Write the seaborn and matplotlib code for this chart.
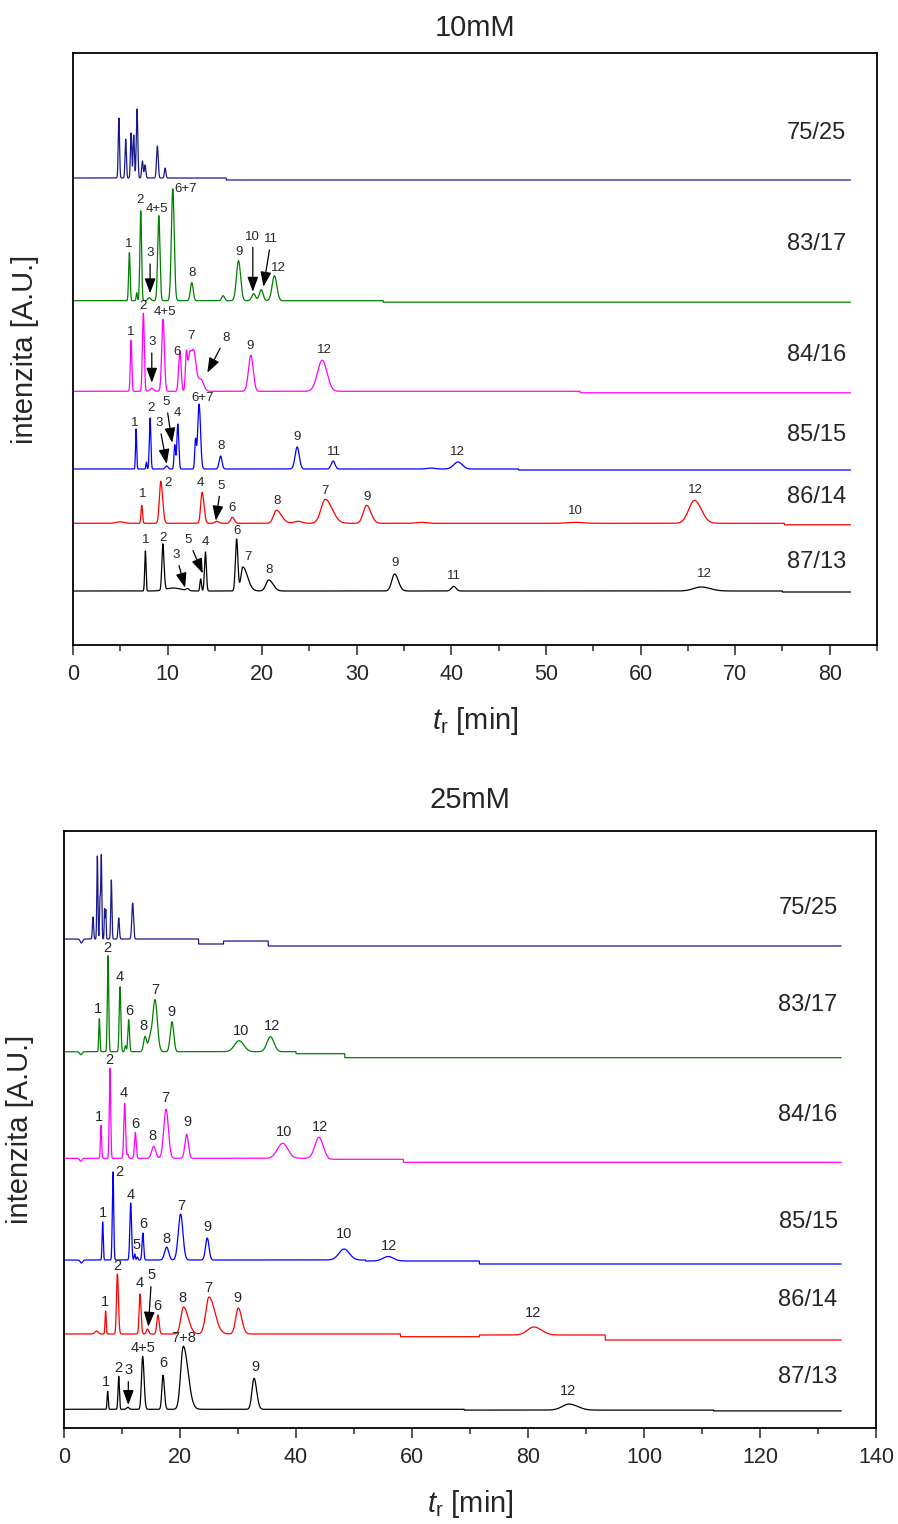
import numpy as np
import pandas as pd
import matplotlib
matplotlib.use("Agg")
import matplotlib.pyplot as plt
import seaborn as sns

sns.set_style("ticks")
plt.rcParams['font.family'] = ['Liberation Sans', 'DejaVu Sans']
plt.rcParams['mathtext.fontset'] = 'custom'
plt.rcParams['mathtext.rm'] = 'Liberation Sans'
plt.rcParams['mathtext.it'] = 'Liberation Sans:italic'

# ---------------- DATA ----------------
samples = ["75/25", "83/17", "84/16", "85/15", "86/14", "87/13"]
colors = ["#1a1a8c", "#008000", "#ff00ff", "#0000ff", "#ff0000", "#000000"]

# ---- 10 mM: peak retention times [min], heights [A.U.], widths (sigma, min), tailing
t10_7525 = [4.85, 5.57, 6.14, 6.42, 6.77, 7.34, 7.62, 8.92, 9.74]
h10_7525 = [60, 39, 45, 43, 69, 17, 13, 32, 10]
w10_7525 = [0.07, 0.07, 0.07, 0.07, 0.08, 0.08, 0.08, 0.09, 0.08]
b10_7525 = [(16.2, -2)]

t10_8317 = [5.96, 6.74, 7.16, 8.07, 9.07, 10.55, 12.56, 15.87, 17.5, 19.1, 19.9, 21.3]
h10_8317 = [48, 8, 90, 3, 85, 112, 18, 5, 40, 7, 11, 25]
w10_8317 = [0.08, 0.06, 0.09, 0.15, 0.12, 0.15, 0.15, 0.15, 0.22, 0.2, 0.2, 0.25]
b10_8317 = [(32.8, -1.5)]

t10_8416 = [6.14, 7.44, 8.33, 9.52, 11.3, 11.98, 12.3, 12.75, 13.5, 18.8, 26.35]
h10_8416 = [51, 78, 3, 72, 40, 34, 30, 40, 12, 36, 31]
w10_8416 = [0.08, 0.1, 0.2, 0.14, 0.13, 0.1, 0.18, 0.25, 0.3, 0.25, 0.5]
b10_8416 = [(53.6, -1.5)]

t10_8515 = [6.67, 7.76, 8.15, 9.9, 10.76, 11.08, 12.95, 13.33, 15.6, 23.7, 27.5, 37.8, 40.7]
h10_8515 = [40, 7, 51, 3, 24, 45, 28, 65, 13, 22, 8, 1, 7]
w10_8515 = [0.06, 0.05, 0.08, 0.15, 0.08, 0.1, 0.08, 0.15, 0.15, 0.22, 0.2, 0.4, 0.45]
b10_8515 = [(47.1, -1)]

t10_8614 = [5.0, 7.27, 9.28, 13.65, 15.2, 16.86, 21.5, 23.8, 26.67, 31.04, 36.8, 53.1, 65.7]
h10_8614 = [1.5, 18, 42, 31, 2, 6, 13, 2, 24, 18, 1, 1, 23]
w10_8614 = [0.4, 0.08, 0.15, 0.15, 0.2, 0.2, 0.3, 0.4, 0.45, 0.35, 0.5, 0.8, 0.6]
k10_8614 = [1, 1, 1.3, 1.3, 1, 1, 1.8, 1, 1.6, 1.3, 1, 1, 1.2]
b10_8614 = [(75.2, -1.5)]

t10_8713 = [7.65, 9.49, 10.6, 12.1, 13.5, 14.0, 17.3, 17.95, 20.7, 34.0, 40.25, 66.4]
h10_8713 = [40, 46, 3, 2, 12, 39, 52, 24, 11, 17, 4.5, 4]
w10_8713 = [0.07, 0.1, 0.8, 0.15, 0.08, 0.1, 0.13, 0.2, 0.3, 0.3, 0.25, 0.8]
k10_8713 = [1, 1.3, 1, 1, 1, 1, 1, 2.5, 1.5, 1.3, 1, 1.2]
b10_8713 = [(75.0, -1)]

# ---- 25 mM
t25_7525 = [3.0, 5.0, 5.75, 6.2, 6.43, 7.0, 7.2, 8.16, 9.43, 11.84]
h25_7525 = [-4, 22, 83, 39, 84, 30, 29, 59, 21, 36]
w25_7525 = [0.2, 0.1, 0.09, 0.08, 0.09, 0.07, 0.07, 0.1, 0.12, 0.15]
b25_7525 = [(23.2, -5), (27.5, 3), (35.2, -5)]

t25_8317 = [2.9, 6.09, 7.59, 9.66, 10.6, 11.15, 13.97, 14.8, 15.69, 18.62, 30.2, 35.6]
h25_8317 = [-3, 33, 96, 65, 6, 32, 15, 12, 52, 30, 11, 15]
w25_8317 = [0.2, 0.1, 0.12, 0.14, 0.12, 0.14, 0.25, 0.3, 0.4, 0.3, 0.8, 0.6]
b25_8317 = [(40.0, -2), (48.4, -4)]

t25_8416 = [2.9, 6.38, 7.93, 10.46, 11.0, 12.3, 15.46, 17.6, 21.15, 37.7, 43.96]
h25_8416 = [-3, 33, 90, 55, 4, 26, 12, 49, 24, 15, 21]
w25_8416 = [0.2, 0.1, 0.12, 0.15, 0.12, 0.15, 0.35, 0.4, 0.3, 0.9, 0.7]
b25_8416 = [(45.5, -1), (58.5, -3)]

t25_8515 = [3.0, 6.67, 8.45, 11.5, 12.2, 12.64, 13.6, 17.7, 20.1, 24.7, 48.3, 55.9]
h25_8515 = [-3, 38, 88, 57, 6, 3, 27, 13, 46, 22, 11, 4.5]
w25_8515 = [0.2, 0.1, 0.12, 0.15, 0.1, 0.1, 0.14, 0.35, 0.4, 0.3, 0.9, 0.9]
b25_8515 = [(52.0, -1), (71.6, -3)]

t25_8614 = [5.6, 7.18, 9.2, 13.1, 14.4, 16.2, 20.6, 25.0, 30.05, 81.0]
h25_8614 = [3, 23, 60, 40, 5, 19, 27, 37, 26, 8]
w25_8614 = [0.3, 0.1, 0.15, 0.15, 0.2, 0.2, 0.45, 0.55, 0.45, 1.1]
k25_8614 = [1, 1, 1.2, 1.2, 1, 1, 1.8, 1.8, 1.3, 1.2]
b25_8614 = [(58.0, -2.7), (71.6, 1.7), (93.3, -5)]

t25_8713 = [7.53, 9.43, 11.0, 13.56, 17.07, 20.57, 32.76, 87.1]
h25_8713 = [18, 33, 2, 53, 34, 63, 31, 6]
w25_8713 = [0.1, 0.12, 0.2, 0.2, 0.2, 0.45, 0.35, 1.2]
k25_8713 = [1, 1, 1, 1.2, 1.2, 1.8, 1.3, 1.2]
b25_8713 = [(69.0, -0.8), (112.0, -0.8)]

# peak labels: (text, t_label, height of label) or with arrow tip (text, t, h, t_tip, h_tip)
lab10 = {
    "83/17": [("1", 5.93, 56.7), ("2", 7.09, 100.7), ("3", 8.15, 47.4, 8.15, 7.4), ("4+5", 8.92, 91.4),
              ("6+7", 11.9, 111.7), ("8", 12.63, 27.4), ("9", 17.57, 49), ("10", 19.01, 64, 19.01, 9),
              ("11", 20.95, 61.4, 20.14, 14), ("12", 21.76, 32.4)],
    "84/16": [("1", 6.14, 59.6), ("2", 7.41, 85), ("3", 8.33, 49, 8.33, 8.6), ("4+5", 9.74, 79),
              ("6", 11.0, 39), ("7", 12.49, 55.3), ("8", 16.15, 53.6, 14.2, 18.6), ("9", 18.73, 45.3),
              ("12", 26.56, 41.3)],
    "85/15": [("1", 6.49, 46.3), ("2", 8.22, 61.3), ("3", 9.1, 45.7, 9.91, 5), ("5", 9.84, 66.7, 10.48, 26.3),
              ("4", 11.08, 55.7), ("6+7", 13.72, 70.7), ("8", 15.66, 23), ("9", 23.74, 31.7),
              ("11", 27.55, 17.3), ("12", 40.67, 17.3)],
    "86/14": [("1", 7.34, 29), ("2", 10.0, 40.7), ("4", 13.5, 40), ("5", 15.63, 37.7, 15.1, 2.7),
              ("6", 16.86, 15), ("8", 21.55, 22.7), ("7", 26.6, 32.3), ("9", 31.04, 26),
              ("10", 53.1, 12.3), ("12", 65.75, 33.3)],
    "87/13": [("1", 7.65, 51), ("2", 9.49, 52.7), ("3", 10.9, 36, 11.85, 3.3), ("5", 12.2, 51, 13.72, 17.7),
              ("4", 13.97, 49.3), ("6", 17.32, 60), ("7", 18.48, 34.3), ("8", 20.78, 21), ("9", 34.0, 27.7),
              ("11", 40.25, 15), ("12", 66.7, 17)],
}
lab25 = {
    "83/17": [("1", 5.8, 42.4), ("2", 7.53, 103.4), ("4", 9.66, 75), ("6", 11.2, 40.7), ("8", 13.67, 26),
              ("7", 15.69, 61.7), ("9", 18.56, 40), ("10", 30.6, 21), ("12", 35.8, 25.7)],
    "84/16": [("1", 6.09, 41), ("2", 7.82, 98.3), ("4", 10.23, 65), ("6", 12.3, 34.3), ("8", 15.29, 22.6),
              ("7", 17.53, 60), ("9", 21.26, 36), ("10", 37.9, 26.6), ("12", 44.1, 31.6)],
    "85/15": [("1", 6.67, 47.3), ("2", 9.48, 88.3), ("4", 11.5, 65), ("5", 12.47, 15), ("6", 13.67, 35.7),
              ("8", 17.7, 21), ("7", 20.29, 54), ("9", 24.7, 33.3), ("10", 48.33, 26), ("12", 56.03, 14.3)],
    "86/14": [("1", 7.07, 32.3), ("2", 9.25, 68.3), ("4", 13.1, 51.3), ("5", 15.12, 59, 14.54, 7.3),
              ("6", 16.09, 28), ("8", 20.46, 35.7), ("7", 24.88, 45.7), ("9", 29.94, 36.3), ("12", 80.9, 21)],
    "87/13": [("1", 7.24, 27.6), ("2", 9.37, 41), ("3", 11.09, 39.3, 11.09, 4.3), ("4+5", 13.56, 61),
              ("6", 17.13, 46), ("7+8", 20.57, 71), ("9", 32.93, 42), ("12", 86.9, 18)],
}

# ---------------- LAYOUT ----------------
panels = [
    dict(title="10mM", rect=[73/898, 1-645/1524, 804/898, 592/1524], ylim=592, xlim=85,
         xmaj=10, xmin=5, t_end=82.2,
         base=[467, 344.3, 253.7, 176, 121.7, 54],
         name_dy=[45, 56.7, 36.3, 34, 26.3, 29], name_t=81.7,
         peaks=[(t10_7525, h10_7525, w10_7525, None, b10_7525),
                (t10_8317, h10_8317, w10_8317, None, b10_8317),
                (t10_8416, h10_8416, w10_8416, None, b10_8416),
                (t10_8515, h10_8515, w10_8515, None, b10_8515),
                (t10_8614, h10_8614, w10_8614, k10_8614, b10_8614),
                (t10_8713, h10_8713, w10_8713, k10_8713, b10_8713)],
         labels=lab10, lfs=9.5, ylab_x=-34/804, xlab_y=-60/592, pad=12),
    dict(title="25mM", rect=[64/898, 1-1428/1524, 812/898, 597.3/1524], ylim=597.3, xlim=140,
         xmaj=20, xmin=10, t_end=134.0,
         base=[489, 376.3, 269.7, 168, 94, 18.7],
         name_dy=[31, 46.7, 43.3, 38, 34, 32.3], name_t=133.4,
         peaks=[(t25_7525, h25_7525, w25_7525, None, b25_7525),
                (t25_8317, h25_8317, w25_8317, None, b25_8317),
                (t25_8416, h25_8416, w25_8416, None, b25_8416),
                (t25_8515, h25_8515, w25_8515, None, b25_8515),
                (t25_8614, h25_8614, w25_8614, k25_8614, b25_8614),
                (t25_8713, h25_8713, w25_8713, k25_8713, b25_8713)],
         labels=lab25, lfs=10.5, ylab_x=-30/812, xlab_y=-60/597.3, pad=16),
]


def chromatogram(times, heights, widths, tails, steps, t_end):
    x = np.linspace(0, t_end, 14000)
    y = np.zeros_like(x)
    for i, (c, h, w) in enumerate(zip(times, heights, widths)):
        k = tails[i] if tails is not None else 1.0
        sig = np.where(x < c, w, w * k)
        y += h * np.exp(-0.5 * ((x - c) / sig) ** 2)
    for ts, d in steps:
        y += np.where(x >= ts, d, 0.0)
    return x, y


fig = plt.figure(figsize=(8.98, 15.24), dpi=100)

for P in panels:
    ax = fig.add_axes(P["rect"])
    for i, s in enumerate(samples):
        tt, hh, ww, kk, bb = P["peaks"][i]
        x, y = chromatogram(tt, hh, ww, kk, bb, P["t_end"])
        df = pd.DataFrame({"t": x, "y": y + P["base"][i]})
        sns.lineplot(data=df, x="t", y="y", ax=ax, color=colors[i], lw=0.9,
                     estimator=None, sort=False)
        ax.text(P["name_t"], P["base"][i] + P["name_dy"][i], s, ha="right", va="center",
                fontsize=17)
        for lab in P["labels"].get(s, []):
            if len(lab) == 3:
                ax.text(lab[1], P["base"][i] + lab[2], lab[0], ha="center", va="center",
                        fontsize=P["lfs"])
            else:
                ax.annotate(lab[0], xy=(lab[3], P["base"][i] + lab[4]),
                            xytext=(lab[1], P["base"][i] + lab[2]),
                            ha="center", va="center", fontsize=P["lfs"],
                            arrowprops=dict(arrowstyle="-|>,head_length=0.6,head_width=0.22",
                                            color="k", lw=0.9, shrinkA=1, shrinkB=0,
                                            mutation_scale=15))
    ax.set_xlim(0, P["xlim"])
    ax.set_ylim(0, P["ylim"])
    ax.set_xticks(np.arange(0, P["xlim"] + 1, P["xmaj"]))
    ax.set_xticks(np.arange(0, P["xlim"] + 1, P["xmin"]), minor=True)
    ax.set_yticks([])
    ax.tick_params(axis="x", which="major", direction="out", length=7, width=1.1,
                   labelsize=15.5, pad=7, top=False)
    ax.tick_params(axis="x", which="minor", direction="out", length=4, width=1.1, top=False)
    for sp in ax.spines.values():
        sp.set_linewidth(1.3)
        sp.set_color("black")
        sp.set_visible(True)
    ax.set_title(P["title"], fontsize=21, pad=P["pad"])
    ax.set_ylabel("intenzita [A.U.]", fontsize=21)
    ax.yaxis.set_label_coords(P["ylab_x"], 0.5)
    ax.set_xlabel(r"$\mathit{t}_{\mathregular{r}}$ [min]", fontsize=21)
    ax.xaxis.set_label_coords(0.5, P["xlab_y"])

fig.savefig("out.png", dpi=100)
